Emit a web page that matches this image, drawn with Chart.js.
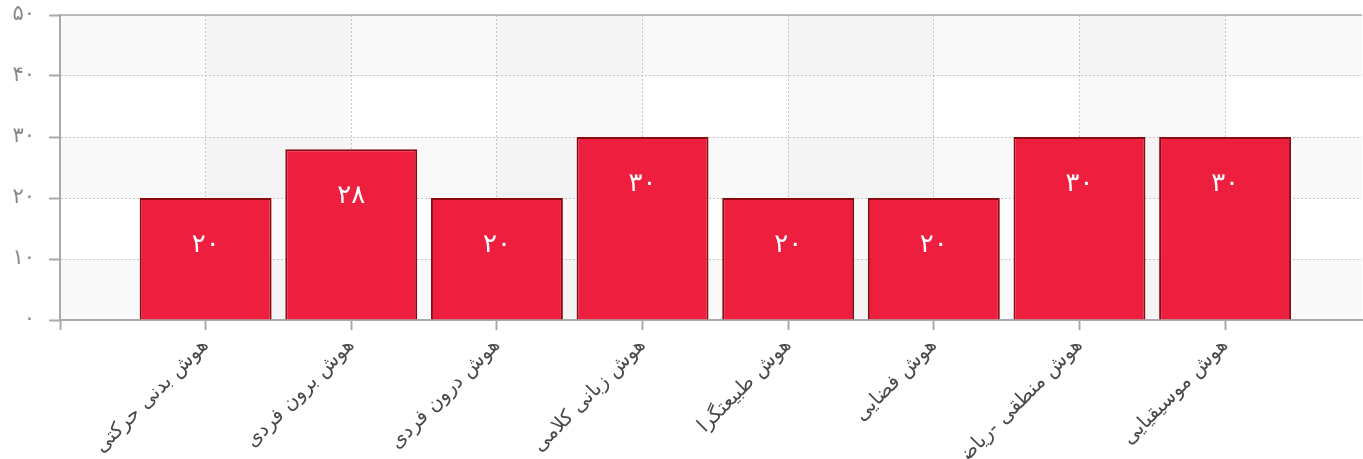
<!DOCTYPE html>
<html lang="fa">
<head>
<meta charset="utf-8">
<script src="https://cdn.jsdelivr.net/npm/chart.js@4.4.1/dist/chart.umd.min.js"></script>
<style>
  html, body { margin: 0; padding: 0; background: #fff; }
  #wrap { width: 1363px; height: 459px; }
</style>
</head>
<body>
<div id="wrap"><canvas id="chart"></canvas></div>
<script>
// داده‌ها
const CATEGORIES = [
    'هوش بدنی حرکتی',
    'هوش برون فردی',
    'هوش درون فردی',
    'هوش زبانی کلامی',
    'هوش طبیعتگرا',
    'هوش فضایی',
    'هوش منطقی -ریاضی',
    'هوش موسیقیایی'
];
const VALUES = [20, 28, 20, 30, 20, 20, 30, 30];
const Y_TICKS = [0, 10, 20, 30, 40, 50];

function toPersian(n) {
    return String(n).replace(/\d/g, d => '۰۱۲۳۴۵۶۷۸۹'[d]);
}

const FONT = "'DejaVu Sans', sans-serif";

// پس‌زمینه نواری (سطرها و ستون‌ها)
const bandsPlugin = {
    id: 'bands',
    beforeDraw(chart) {
        const { ctx, chartArea: a, scales: { x, y } } = chart;
        ctx.save();
        ctx.fillStyle = 'rgba(0,0,0,0.022)';
        for (let i = Y_TICKS.length - 1; i > 0; i -= 2) {
            const t = y.getPixelForValue(Y_TICKS[i]);
            const b = y.getPixelForValue(Y_TICKS[i - 1]);
            ctx.fillRect(a.left, t, a.right - a.left, b - t);
        }
        for (let i = 1; i < CATEGORIES.length; i += 2) {
            const l = x.getPixelForValue(i);
            const r = x.getPixelForValue(i + 1);
            ctx.fillRect(l, a.top, r - l, a.bottom - a.top);
        }
        ctx.restore();
    },
    afterDraw(chart) {
        const { ctx, chartArea: a } = chart;
        ctx.save();
        ctx.strokeStyle = '#aaa';
        ctx.lineWidth = 1.5;
        ctx.beginPath();
        ctx.moveTo(a.left, a.top);
        ctx.lineTo(a.right, a.top);
        ctx.stroke();
        ctx.restore();
    }
};

// برچسب مقدار روی ستون‌ها
const valueLabels = {
    id: 'valueLabels',
    afterDatasetsDraw(chart) {
        const { ctx } = chart;
        const meta = chart.getDatasetMeta(0);
        ctx.save();
        ctx.fillStyle = '#fff';
        ctx.font = '26px ' + FONT;
        ctx.textAlign = 'center';
        ctx.textBaseline = 'middle';
        meta.data.forEach((bar, i) => {
            ctx.fillText(toPersian(VALUES[i]), bar.x, bar.y + 47);
        });
        ctx.restore();
    }
};

function noPad(scale) {
    scale.paddingTop = 0;
    scale.paddingBottom = 0;
    scale.paddingLeft = 0;
    scale.paddingRight = 0;
}

new Chart(document.getElementById('chart'), {
    type: 'bar',
    data: {
        datasets: [{
            data: VALUES.map((v, i) => ({ x: i + 1, y: v })),
            backgroundColor: '#EE1F3E',
            borderColor: '#8A0A10',
            borderWidth: 2,
            barPercentage: 0.906,
            categoryPercentage: 1
        }]
    },
    options: {
        responsive: true,
        maintainAspectRatio: false,
        animation: false,
        layout: { padding: { top: 15, right: 1, left: 0, bottom: 0 } },
        plugins: {
            legend: { display: false },
            tooltip: { enabled: false }
        },
        scales: {
            x: {
                type: 'linear',
                min: 0,
                max: 8.94,
                offset: false,
                afterBuildTicks(scale) {
                    scale.ticks = [{ value: 0 }].concat(CATEGORIES.map((c, i) => ({ value: i + 1 })));
                },
                afterFit(scale) { scale.height = 139; noPad(scale); },
                grid: {
                    offset: false,
                    color: '#c8c8c8',
                    lineWidth: 1,
                    tickColor: '#aaa',
                    tickWidth: 2,
                    tickLength: 10,
                    tickBorderDash: []
                },
                border: { color: '#aaa', width: 2, dash: [2, 2] },
                ticks: {
                    autoSkip: false,
                    maxRotation: 45,
                    minRotation: 45,
                    padding: 4,
                    color: '#4a4a4a',
                    font: { size: 20, family: FONT },
                    callback: v => (v >= 1 ? CATEGORIES[v - 1] : '')
                }
            },
            y: {
                min: 0,
                max: 50,
                afterBuildTicks(scale) {
                    scale.ticks = Y_TICKS.map(v => ({ value: v }));
                },
                afterFit(scale) { scale.width = 60; noPad(scale); },
                grid: {
                    color: '#c8c8c8',
                    lineWidth: 1,
                    tickColor: '#aaa',
                    tickWidth: 2,
                    tickLength: 11,
                    tickBorderDash: []
                },
                border: { color: '#aaa', width: 2, dash: [2, 2] },
                ticks: {
                    padding: 14,
                    color: '#888',
                    font: { size: 21, family: FONT },
                    callback: v => toPersian(v)
                }
            }
        }
    },
    plugins: [bandsPlugin, valueLabels]
});
</script>
</body>
</html>
